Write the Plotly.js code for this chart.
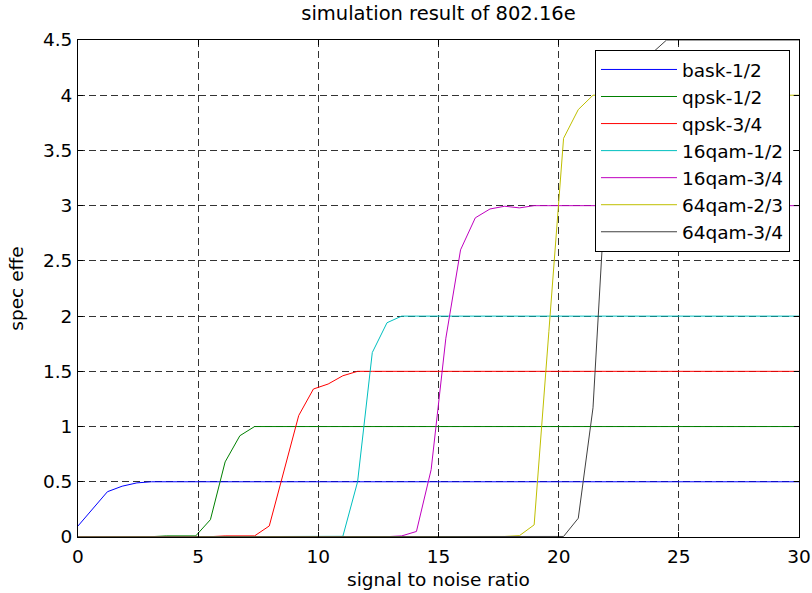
<!DOCTYPE html>
<html>
<head>
<meta charset="utf-8">
<script src="https://cdn.plot.ly/plotly-3.0.1.min.js"></script>
<style>html,body{margin:0;padding:0;background:#fff;}#chart{width:812px;height:593px;}</style>
</head>
<body>
<div id="chart"></div>
<script>
// signal to noise ratio samples
var snr = [0,0.612,1.224,1.837,2.449,3.061,3.673,4.286,4.898,5.510,6.122,6.735,7.347,7.959,8.571,9.184,9.796,10.408,11.020,11.633,12.245,12.857,13.469,14.082,14.694,15.306,15.918,16.531,17.143,17.755,18.367,18.980,19.592,20.204,20.816,21.429,22.041,22.653,23.265,23.878,24.490,25.102,25.714,26.327,26.939,27.551,28.163,28.776,29.388,30];

var seriesNames = ["bask-1/2","qpsk-1/2","qpsk-3/4","16qam-1/2","16qam-3/4","64qam-2/3","64qam-3/4"];

var bask12 = [0.1,0.26,0.41,0.46,0.49,0.5,0.5,0.5,0.5,0.5,0.5,0.5,0.5,0.5,0.5,0.5,0.5,0.5,0.5,0.5,0.5,0.5,0.5,0.5,0.5,0.5,0.5,0.5,0.5,0.5,0.5,0.5,0.5,0.5,0.5,0.5,0.5,0.5,0.5,0.5,0.5,0.5,0.5,0.5,0.5,0.5,0.5,0.5,0.5,0.5];
var qpsk12 = [0,0,0,0,0,0.003,0.01,0.01,0.01,0.157,0.68,0.917,1,1,1,1,1,1,1,1,1,1,1,1,1,1,1,1,1,1,1,1,1,1,1,1,1,1,1,1,1,1,1,1,1,1,1,1,1,1];
var qpsk34 = [0,0,0,0,0,0,0,0,0,0.003,0.01,0.01,0.01,0.1,0.6,1.1,1.34,1.385,1.46,1.5,1.5,1.5,1.5,1.5,1.5,1.5,1.5,1.5,1.5,1.5,1.5,1.5,1.5,1.5,1.5,1.5,1.5,1.5,1.5,1.5,1.5,1.5,1.5,1.5,1.5,1.5,1.5,1.5,1.5,1.5];
var qam16_12 = [0,0,0,0,0,0,0,0,0,0,0,0,0,0,0,0,0,0.004,0.006,0.5,1.67,1.94,2,2,2,2,2,2,2,2,2,2,2,2,2,2,2,2,2,2,2,2,2,2,2,2,2,2,2,2];
var qam16_34 = [0,0,0,0,0,0,0,0,0,0,0,0,0,0,0,0,0,0,0,0,0,0.003,0.01,0.05,0.61,1.8,2.6,2.89,2.97,2.995,2.98,3,3,3,3,3,3,3,3,3,3,3,3,3,3,3,3,3,3,3];
var qam64_23 = [0,0,0,0,0,0,0,0,0,0,0,0,0,0,0,0,0,0,0,0,0,0,0,0,0,0,0,0,0,0.005,0.012,0.11,1.86,3.61,3.87,4,4,4,4,4,4,4,4,4,4,4,4,4,4,4];
var qam64_34 = [0,0,0,0,0,0,0,0,0,0,0,0,0,0,0,0,0,0,0,0,0,0,0,0,0,0,0,0,0,0,0,0,0,0.005,0.17,1.17,3.5,4.05,4.25,4.38,4.5,4.5,4.5,4.5,4.5,4.5,4.5,4.5,4.5,4.5];

var xTicks = [0,5,10,15,20,25,30];
var yTicks = [0,0.5,1,1.5,2,2.5,3,3.5,4,4.5];
var yTickText = ["0","0.5","1","1.5","2","2.5","3","3.5","4","4.5"];

var allSeries = [bask12,qpsk12,qpsk34,qam16_12,qam16_34,qam64_23,qam64_34];
var colors = ["#0000ff","#008000","#ff0000","#00bfbf","#bf00bf","#bfbf00","#404040"];

var FONT = "DejaVu Sans, Liberation Sans, Arial, sans-serif";
var FS = 18.5;

var traces = allSeries.map(function(ys, i){
  return {
    type: "scatter", mode: "lines", x: snr, y: ys, name: seriesNames[i],
    line: {color: colors[i], width: 1}, cliponaxis: true
  };
});

var axisCommon = {
  showline: true, linecolor: "#000", linewidth: 1, mirror: "ticks",
  ticks: "inside", ticklen: 5, tickcolor: "#000", tickwidth: 1,
  showgrid: true, gridcolor: "#333", gridwidth: 1, griddash: "7px,4px",
  zeroline: false, tickfont: {family: FONT, size: FS, color: "#000"}
};

var layout = {
  width: 812, height: 593,
  margin: {l: 78, r: 13, t: 40, b: 56, pad: 0},
  paper_bgcolor: "#fff", plot_bgcolor: "#fff",
  font: {family: FONT, size: FS, color: "#000"},
  title: {text: "simulation result of 802.16e", font: {family: FONT, size: 19.5, color: "#000"},
          x: 0.5, xref: "paper", y: 0.978, yref: "container", yanchor: "middle"},
  xaxis: Object.assign({}, axisCommon, {
    range: [0, 30], tickvals: xTicks, ticktext: xTicks.map(String),
    title: {text: "signal to noise ratio", font: {family: FONT, size: FS, color: "#000"}, standoff: 6},
    ticklabelstandoff: 3
  }),
  yaxis: Object.assign({}, axisCommon, {
    range: [0, 4.5], tickvals: yTicks, ticktext: yTickText,
    title: {text: "spec effe", font: {family: FONT, size: FS, color: "#000"}, standoff: 14},
    ticklabelstandoff: 1
  }),
  showlegend: true,
  legend: {
    x: 0.9875, xanchor: "right", y: 0.98, yanchor: "top",
    bgcolor: "#fff", bordercolor: "#000", borderwidth: 1,
    font: {family: FONT, size: FS, color: "#000"},
    itemwidth: 76, tracegroupgap: 0
  }
};

Plotly.newPlot("chart", traces, layout, {displayModeBar: false, staticPlot: true});
</script>
</body>
</html>
